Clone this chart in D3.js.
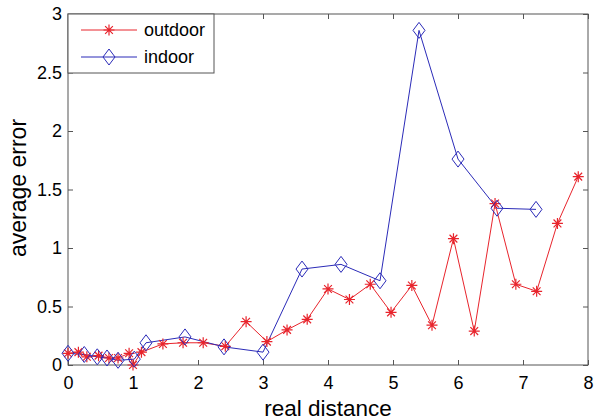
<!DOCTYPE html>
<html>
<head>
<meta charset="utf-8">
<script src="https://cdn.jsdelivr.net/npm/d3@7"></script>
<style>
  body { margin: 0; background: #fff; }
  svg { display: block; font-family: "Liberation Sans", Arial, sans-serif; }
</style>
</head>
<body>
<svg id="chart" width="599" height="420"></svg>
<script>
// --- data ------------------------------------------------------------------
const outdoorX = [0, 0.16, 0.29, 0.47, 0.63, 0.77, 0.94, 1.0, 1.13, 1.46, 1.77, 2.08, 2.42,
                  2.74, 3.06, 3.37, 3.68, 4.0, 4.33, 4.65, 4.97, 5.29, 5.6, 5.93, 6.25,
                  6.57, 6.89, 7.21, 7.53, 7.85];
const outdoorY = [0.10, 0.11, 0.07, 0.08, 0.06, 0.06, 0.10, 0.0, 0.11, 0.18, 0.19, 0.19, 0.16,
                  0.37, 0.20, 0.30, 0.39, 0.65, 0.56, 0.69, 0.45, 0.68, 0.34, 1.08, 0.29,
                  1.38, 0.69, 0.63, 1.21, 1.61];
const indoorX = [0, 0.25, 0.45, 0.6, 0.77, 1.02, 1.2, 1.8, 2.4, 3.0, 3.6, 4.2, 4.8, 5.4, 6.0, 6.6, 7.2];
const indoorY = [0.10, 0.09, 0.07, 0.06, 0.04, 0.05, 0.19, 0.24, 0.155, 0.11, 0.82, 0.86, 0.72, 2.86, 1.76, 1.34, 1.33];
const xTicks = [0, 1, 2, 3, 4, 5, 6, 7, 8];
const yTicks = [0, 0.5, 1, 1.5, 2, 2.5, 3];

const svg = d3.select('#chart');
const mLeft = 68, mRight = 588, mTop = 14, mBottom = 365;

const x = d3.scaleLinear().domain([0, 8]).range([mLeft, mRight]);
const y = d3.scaleLinear().domain([0, 3]).range([mBottom, mTop]);

const RED = '#e8242c', BLUE = '#2b2bb8', FRAME = '#555';

// box frame
svg.append('rect')
  .attr('x', mLeft).attr('y', mTop)
  .attr('width', mRight - mLeft).attr('height', mBottom - mTop)
  .attr('fill', 'none').attr('stroke', FRAME).attr('stroke-width', 1);

// axes with inward ticks (MATLAB style, all four sides)
const tickLen = 5;
const styleAxis = g => {
  g.select('.domain').remove();
  g.selectAll('.tick line').attr('stroke', FRAME);
  g.selectAll('.tick text').attr('fill', '#000').attr('font-size', 18)
    .attr('font-family', '"Liberation Sans", Arial, sans-serif');
};

svg.append('g').attr('transform', `translate(0,${mBottom})`)
  .call(d3.axisBottom(x).tickValues(xTicks).tickFormat(d3.format('d'))
    .tickSizeInner(-tickLen).tickSizeOuter(0).tickPadding(11))
  .call(styleAxis);
svg.append('g').attr('transform', `translate(0,${mTop})`)
  .call(d3.axisTop(x).tickValues(xTicks).tickFormat('')
    .tickSizeInner(-tickLen).tickSizeOuter(0))
  .call(styleAxis);
svg.append('g').attr('transform', `translate(${mLeft},0)`)
  .call(d3.axisLeft(y).tickValues(yTicks).tickFormat(d => d)
    .tickSizeInner(-tickLen).tickSizeOuter(0).tickPadding(6))
  .call(styleAxis);
svg.append('g').attr('transform', `translate(${mRight},0)`)
  .call(d3.axisRight(y).tickValues(yTicks).tickFormat('')
    .tickSizeInner(-tickLen).tickSizeOuter(0))
  .call(styleAxis);

// axis labels
svg.append('text')
  .attr('x', (mLeft + mRight) / 2).attr('y', 416)
  .attr('text-anchor', 'middle').attr('font-size', 22.5)
  .text('real distance');
svg.append('text')
  .attr('transform', `translate(26,188) rotate(-90)`)
  .attr('text-anchor', 'middle').attr('font-size', 23)
  .text('average error');

// markers
const asterisk = (g, cx, cy, r) => {
  const p = d3.path();
  for (let a = 0; a < 4; a++) {
    const ang = a * Math.PI / 4;
    p.moveTo(cx - r * Math.cos(ang), cy - r * Math.sin(ang));
    p.lineTo(cx + r * Math.cos(ang), cy + r * Math.sin(ang));
  }
  g.append('path').attr('d', p.toString()).attr('stroke', RED).attr('stroke-width', 1.2).attr('fill', 'none');
};
const diamond = (g, cx, cy, r) => {
  g.append('path')
    .attr('d', `M${cx},${cy - r}L${cx + r * 0.75},${cy}L${cx},${cy + r}L${cx - r * 0.75},${cy}Z`)
    .attr('stroke', BLUE).attr('stroke-width', 1).attr('fill', 'none');
};

const line = d3.line().x(d => x(d[0])).y(d => y(d[1]));
const outdoor = outdoorX.map((v, i) => [v, outdoorY[i]]);
const indoor = indoorX.map((v, i) => [v, indoorY[i]]);

const gData = svg.append('g');
gData.append('path').datum(outdoor).attr('d', line)
  .attr('fill', 'none').attr('stroke', RED).attr('stroke-width', 1);
gData.append('path').datum(indoor).attr('d', line)
  .attr('fill', 'none').attr('stroke', BLUE).attr('stroke-width', 1);
outdoor.forEach(d => asterisk(gData, x(d[0]), y(d[1]), 5.5));
indoor.forEach(d => diamond(gData, x(d[0]), y(d[1]), 8));

// legend
const lg = svg.append('g');
lg.append('rect').attr('x', mLeft).attr('y', mTop)
  .attr('width', 146).attr('height', 59)
  .attr('fill', '#fff').attr('stroke', FRAME).attr('stroke-width', 1);
const legendRows = [
  { name: 'outdoor', color: RED, mark: asterisk, r: 5.5, yy: 30 },
  { name: 'indoor', color: BLUE, mark: diamond, r: 8, yy: 57 }
];
legendRows.forEach(row => {
  lg.append('line').attr('x1', 81).attr('x2', 137)
    .attr('y1', row.yy).attr('y2', row.yy)
    .attr('stroke', row.color).attr('stroke-width', 1);
  row.mark(lg, 109, row.yy, row.r);
  lg.append('text').attr('x', 144).attr('y', row.yy + 6)
    .attr('font-size', 18).text(row.name);
});
</script>
</body>
</html>
